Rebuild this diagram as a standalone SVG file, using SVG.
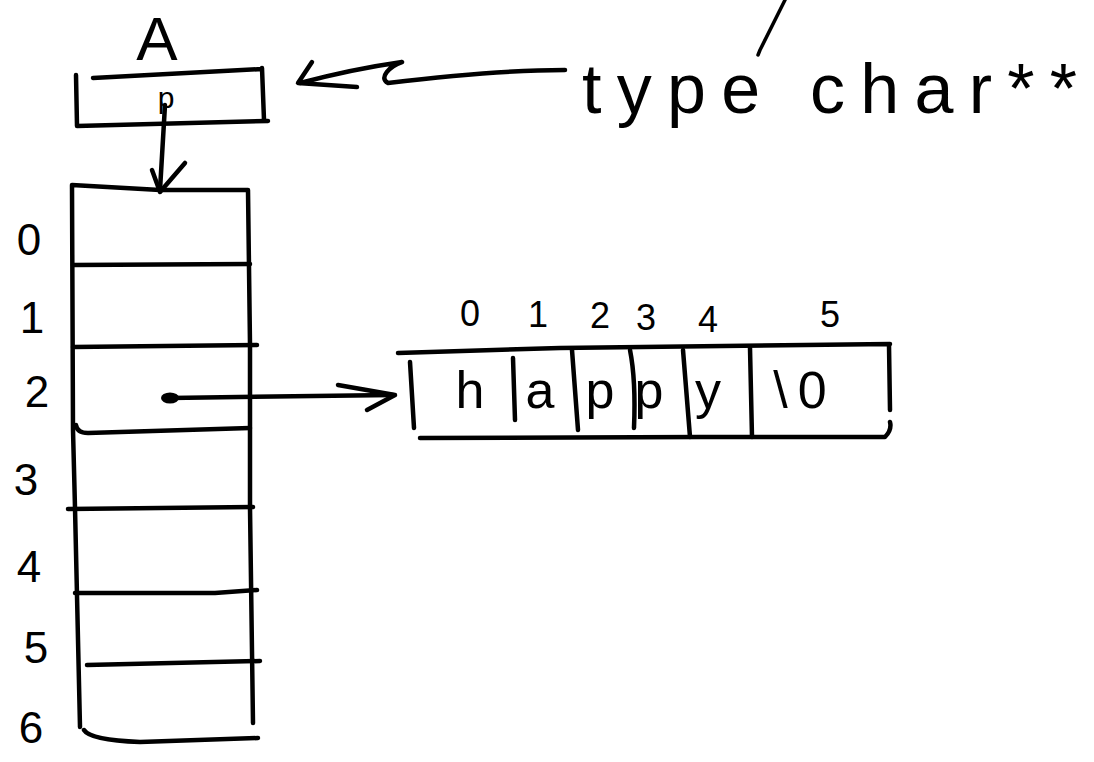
<svg xmlns="http://www.w3.org/2000/svg" width="1094" height="762" viewBox="0 0 1094 762">
<style>
.ink{fill:none;stroke:#000;stroke-width:4.5;stroke-linecap:round;stroke-linejoin:round}
.thin{fill:none;stroke:#000;stroke-width:3.5;stroke-linecap:round;stroke-linejoin:round}
.t{font-family:"Liberation Sans",Arial,sans-serif;fill:#000}
.idx{font-size:44px;text-anchor:middle}
.top{font-size:36px;text-anchor:middle}
.ch{font-size:52px;text-anchor:middle}
</style>
<rect width="1094" height="762" fill="#fff"/>
<g id="node-A">
  <text class="t" x="157" y="60" font-size="62" text-anchor="middle">A</text>
  <path class="ink" d="M93,78 L262,69 M76,75 L77,126 L268,121 M262,68 L264,120"/>
  <text class="t" x="166" y="108" font-size="30" text-anchor="middle">p</text>
</g>
<g id="node-array">
  <path class="ink" d="M72,185 L160,190 L248,190 M72,185 L73,430 L75,508 L80,727 M248,190 L250,345 L250,508 L253,723"/>
  <path class="ink" d="M73,265 L250,264 M73,347 L257,345 M76,425 Q77,433 88,433 L250,428 M68,509 L253,507 M75,593 L215,593 L257,590 M87,665 L260,661 M84,730 Q90,740 140,742 L258,738"/>
  <text class="t idx" x="29" y="255">0</text>
  <text class="t idx" x="32" y="333">1</text>
  <text class="t idx" x="37" y="407">2</text>
  <text class="t idx" x="26" y="495">3</text>
  <text class="t idx" x="29" y="582">4</text>
  <text class="t idx" x="36" y="663">5</text>
  <text class="t idx" x="31" y="743">6</text>
</g>
<g id="node-string">
  <path class="ink" d="M398,353 L560,348 L890,344 M410,362 L414,428 M889,345 L890,410 M420,438 L700,437 L885,437 Q892,430 890,422"/>
  <path class="ink" d="M513,358 L515,420 M572,350 L578,430 M630,350 Q636,380 634,428 M683,350 L690,437 M750,348 L752,437"/>
  <text class="t ch" x="470" y="408">h</text>
  <text class="t ch" x="540" y="408">a</text>
  <text class="t ch" x="600" y="408">p</text>
  <text class="t ch" x="649" y="408">p</text>
  <text class="t ch" x="708" y="408">y</text>
  <text class="t ch" x="805" y="408" letter-spacing="10">\0</text>
  <text class="t top" x="470" y="326">0</text>
  <text class="t top" x="538" y="327">1</text>
  <text class="t top" x="600" y="328">2</text>
  <text class="t top" x="646" y="330">3</text>
  <text class="t top" x="708" y="332">4</text>
  <text class="t top" x="830" y="327">5</text>
</g>
<g id="node-label">
  <text class="t" x="582" y="113" font-size="70" textLength="495" lengthAdjust="spacing">type char**</text>
</g>
<g id="connectors">
  <path class="ink" d="M165,105 L160,190"/>
  <path class="ink" d="M152,170 L160,192 L185,163"/>
  <ellipse cx="170" cy="398" rx="9" ry="5.5" fill="#000"/>
  <path class="ink" d="M170,398 L393,395"/>
  <path class="ink" d="M338,385 L395,395 L367,410"/>
  <path class="ink" d="M565,70 C500,70 430,78 388,83 C378,78 390,66 402,62 C360,68 330,75 300,83"/>
  <path class="ink" d="M312,62 L298,83 L357,87"/>
  <path class="thin" d="M785,0 L760,50 L758,55"/>
</g>
</svg>
